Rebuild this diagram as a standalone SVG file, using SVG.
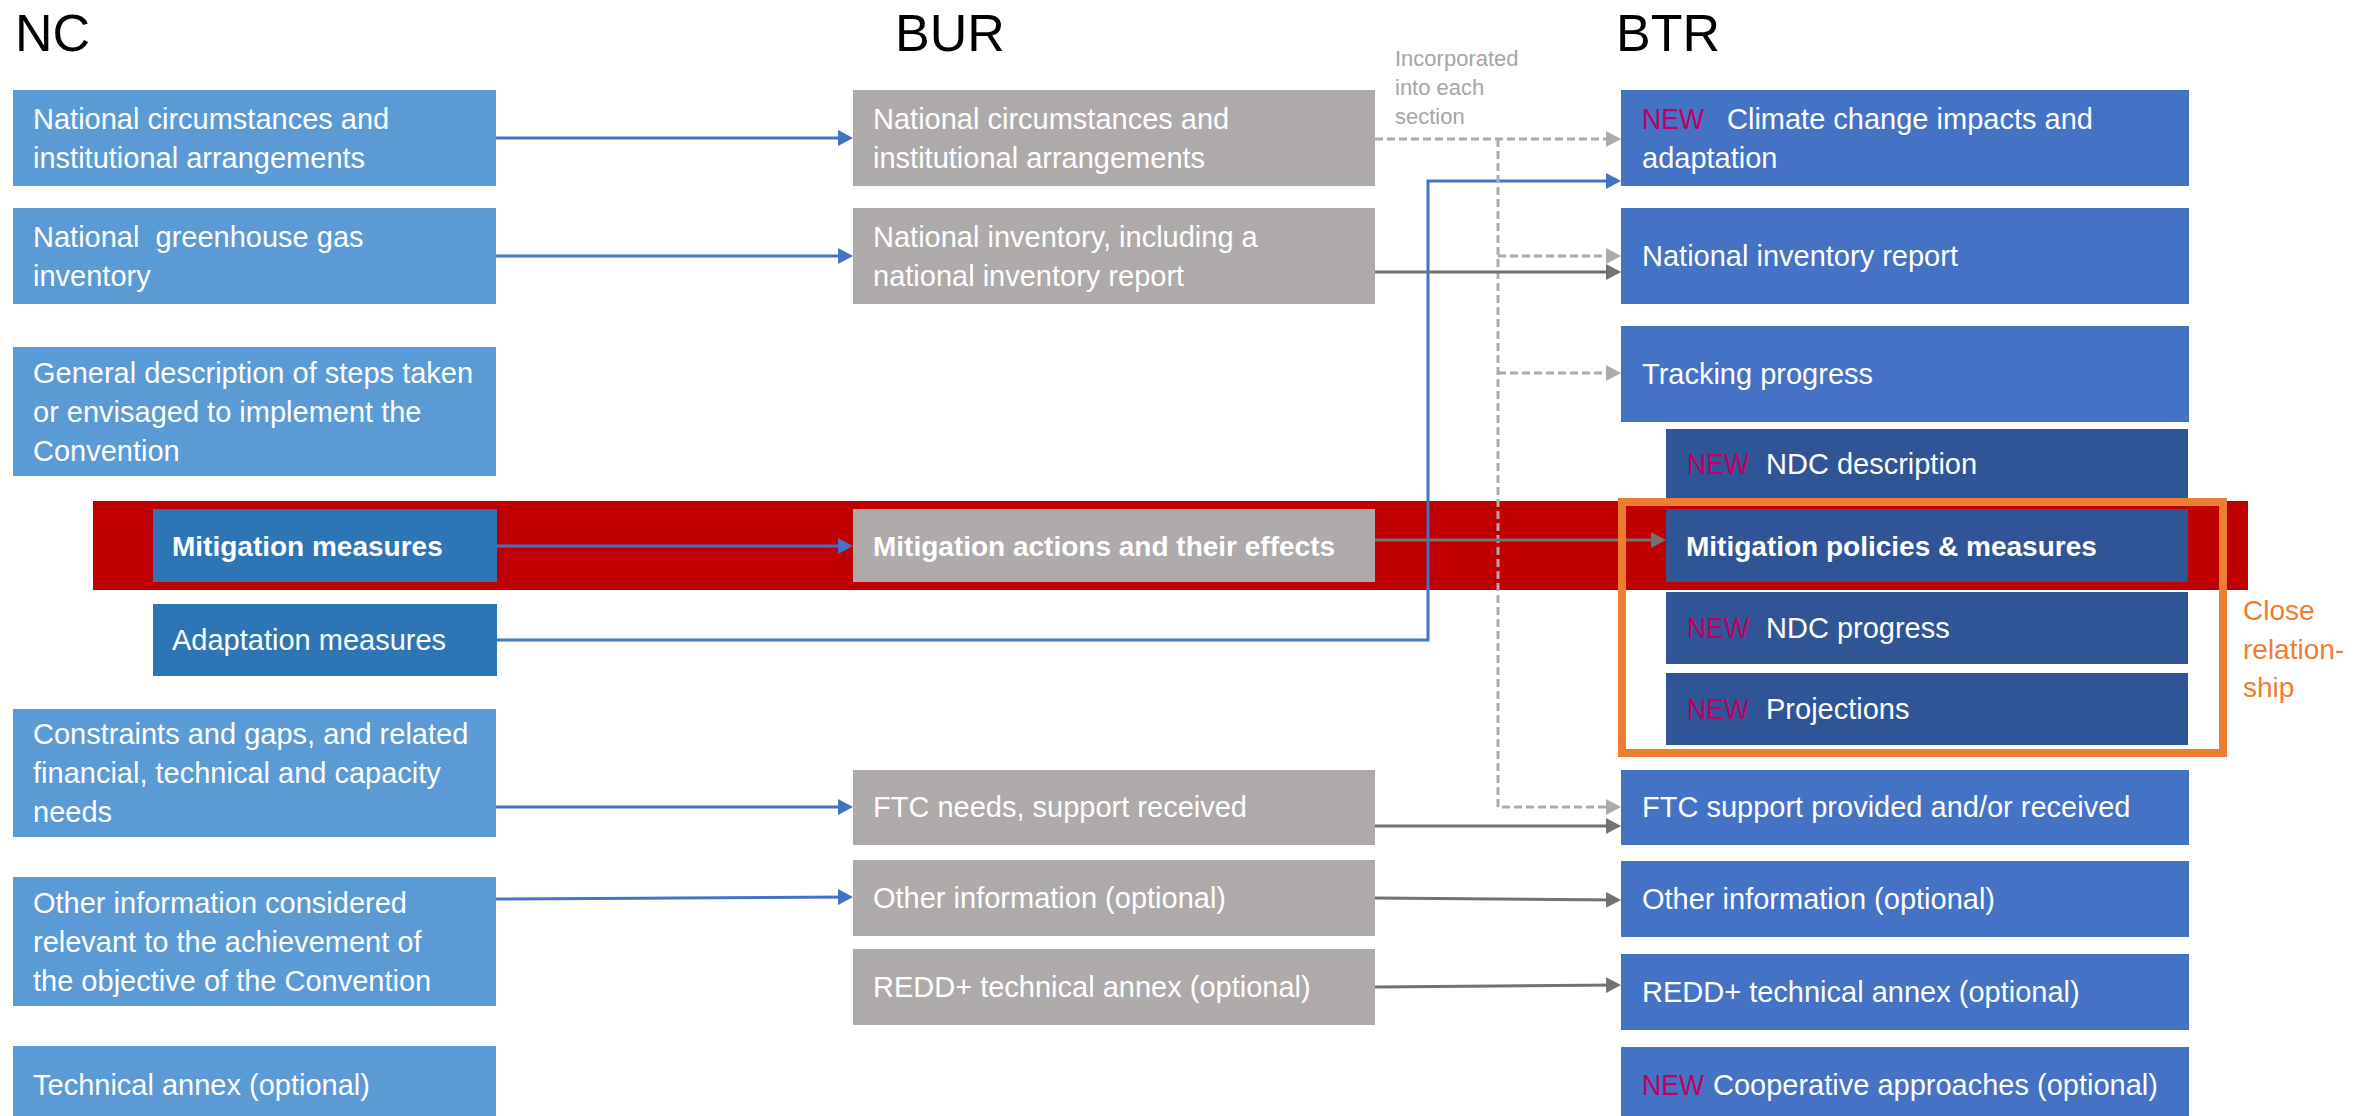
<svg xmlns="http://www.w3.org/2000/svg" width="2364" height="1116" viewBox="0 0 2364 1116">
  <defs>
    <style>
      text { font-family: "Liberation Sans", Arial, sans-serif; }
      .title { font-size: 52px; fill: #000; }
      .lbl { font-size: 29px; fill: #fff; }
      .bold { font-size: 28px; font-weight: bold; fill: #fff; }
      .new { fill: #c00060; }
      .nc { fill: #5b9bd5; }
      .nc-sub { fill: #2e75b6; }
      .bur { fill: #aeaaaa; }
      .btr { fill: #4472c4; }
      .btr-sub { fill: #2f5597; }
      .blue { fill: none; stroke: #4472c4; stroke-width: 3; }
      .grey { fill: none; stroke: #767171; stroke-width: 3; }
      .dash { fill: none; stroke: #aeaaaa; stroke-width: 3; stroke-dasharray: 8 4; }
      .note { font-size: 22px; fill: #a6a6a6; }
      .close { font-size: 28px; fill: #ed7d31; }
    </style>
    <marker id="arrow-blue" markerUnits="userSpaceOnUse" markerWidth="15" markerHeight="16" refX="12" refY="8" orient="auto">
      <path d="M0,0 L15,8 L0,16 z" fill="#4472c4"/>
    </marker>
    <marker id="arrow-grey" markerUnits="userSpaceOnUse" markerWidth="15" markerHeight="16" refX="12" refY="8" orient="auto">
      <path d="M0,0 L15,8 L0,16 z" fill="#767171"/>
    </marker>
    <marker id="arrow-light" markerUnits="userSpaceOnUse" markerWidth="15" markerHeight="16" refX="12" refY="8" orient="auto">
      <path d="M0,0 L15,8 L0,16 z" fill="#aeaaaa"/>
    </marker>
  </defs>

  <rect width="2364" height="1116" fill="#ffffff"/>

  <!-- column headings -->
  <text class="title" x="15" y="51">NC</text>
  <text class="title" x="895" y="51">BUR</text>
  <text class="title" x="1616" y="51">BTR</text>

  <!-- mitigation highlight band -->
  <rect id="mitigation-band" x="93" y="501" width="2155" height="89" fill="#c00000"/>

  <!-- NC column -->
  <g id="nc-circumstances">
    <rect class="nc" x="13" y="90" width="483" height="96"/>
    <text class="lbl" x="33" y="129">National circumstances and</text>
    <text class="lbl" x="33" y="168">institutional arrangements</text>
  </g>
  <g id="nc-ghg-inventory">
    <rect class="nc" x="13" y="208" width="483" height="96"/>
    <text class="lbl" x="33" y="247" xml:space="preserve">National  greenhouse gas</text>
    <text class="lbl" x="33" y="286">inventory</text>
  </g>
  <g id="nc-general-description">
    <rect class="nc" x="13" y="347" width="483" height="129"/>
    <text class="lbl" x="33" y="383">General description of steps taken</text>
    <text class="lbl" x="33" y="422">or envisaged to implement the</text>
    <text class="lbl" x="33" y="461">Convention</text>
  </g>
  <g id="nc-mitigation">
    <rect class="nc-sub" x="153" y="509" width="344" height="73"/>
    <text class="bold" x="172" y="556">Mitigation measures</text>
  </g>
  <g id="nc-adaptation">
    <rect class="nc-sub" x="153" y="604" width="344" height="72"/>
    <text class="lbl" x="172" y="650">Adaptation measures</text>
  </g>
  <g id="nc-constraints">
    <rect class="nc" x="13" y="709" width="483" height="128"/>
    <text class="lbl" x="33" y="744">Constraints and gaps, and related</text>
    <text class="lbl" x="33" y="783">financial, technical and capacity</text>
    <text class="lbl" x="33" y="822">needs</text>
  </g>
  <g id="nc-other">
    <rect class="nc" x="13" y="877" width="483" height="129"/>
    <text class="lbl" x="33" y="913">Other information considered</text>
    <text class="lbl" x="33" y="952">relevant to the achievement of</text>
    <text class="lbl" x="33" y="991">the objective of the Convention</text>
  </g>
  <g id="nc-annex">
    <rect class="nc" x="13" y="1046" width="483" height="76"/>
    <text class="lbl" x="33" y="1095">Technical annex (optional)</text>
  </g>

  <!-- BUR column -->
  <g id="bur-circumstances">
    <rect class="bur" x="853" y="90" width="522" height="96"/>
    <text class="lbl" x="873" y="129">National circumstances and</text>
    <text class="lbl" x="873" y="168">institutional arrangements</text>
  </g>
  <g id="bur-inventory">
    <rect class="bur" x="853" y="208" width="522" height="96"/>
    <text class="lbl" x="873" y="247">National inventory, including a</text>
    <text class="lbl" x="873" y="286">national inventory report</text>
  </g>
  <g id="bur-mitigation">
    <rect class="bur" x="853" y="509" width="522" height="73"/>
    <text class="bold" x="873" y="556">Mitigation actions and their effects</text>
  </g>
  <g id="bur-ftc">
    <rect class="bur" x="853" y="770" width="522" height="75"/>
    <text class="lbl" x="873" y="817">FTC needs, support received</text>
  </g>
  <g id="bur-other">
    <rect class="bur" x="853" y="860" width="522" height="76"/>
    <text class="lbl" x="873" y="908">Other information (optional)</text>
  </g>
  <g id="bur-redd">
    <rect class="bur" x="853" y="949" width="522" height="76"/>
    <text class="lbl" x="873" y="997">REDD+ technical annex (optional)</text>
  </g>

  <!-- BTR column -->
  <g id="btr-impacts">
    <rect class="btr" x="1621" y="90" width="568" height="96"/>
    <text class="lbl" y="129"><tspan class="new" x="1642" textLength="62" lengthAdjust="spacingAndGlyphs">NEW</tspan><tspan x="1727">Climate change impacts and</tspan></text>
    <text class="lbl" x="1642" y="168">adaptation</text>
  </g>
  <g id="btr-inventory">
    <rect class="btr" x="1621" y="208" width="568" height="96"/>
    <text class="lbl" x="1642" y="266">National inventory report</text>
  </g>
  <g id="btr-tracking">
    <rect class="btr" x="1621" y="326" width="568" height="96"/>
    <text class="lbl" x="1642" y="384">Tracking progress</text>
  </g>
  <g id="btr-ndc-description">
    <rect class="btr-sub" x="1666" y="429" width="522" height="69"/>
    <text class="lbl" y="474"><tspan class="new" x="1687" textLength="62" lengthAdjust="spacingAndGlyphs">NEW</tspan><tspan x="1766">NDC description</tspan></text>
  </g>
  <g id="btr-mitigation">
    <rect class="btr-sub" x="1666" y="509" width="522" height="73"/>
    <text class="bold" x="1686" y="556">Mitigation policies &amp; measures</text>
  </g>
  <g id="btr-ndc-progress">
    <rect class="btr-sub" x="1666" y="592" width="522" height="72"/>
    <text class="lbl" y="638"><tspan class="new" x="1687" textLength="62" lengthAdjust="spacingAndGlyphs">NEW</tspan><tspan x="1766">NDC progress</tspan></text>
  </g>
  <g id="btr-projections">
    <rect class="btr-sub" x="1666" y="673" width="522" height="72"/>
    <text class="lbl" y="719"><tspan class="new" x="1687" textLength="62" lengthAdjust="spacingAndGlyphs">NEW</tspan><tspan x="1766">Projections</tspan></text>
  </g>
  <g id="btr-ftc">
    <rect class="btr" x="1621" y="770" width="568" height="75"/>
    <text class="lbl" x="1642" y="817">FTC support provided and/or received</text>
  </g>
  <g id="btr-other">
    <rect class="btr" x="1621" y="861" width="568" height="76"/>
    <text class="lbl" x="1642" y="909">Other information (optional)</text>
  </g>
  <g id="btr-redd">
    <rect class="btr" x="1621" y="954" width="568" height="76"/>
    <text class="lbl" x="1642" y="1002">REDD+ technical annex (optional)</text>
  </g>
  <g id="btr-cooperative">
    <rect class="btr" x="1621" y="1047" width="568" height="76"/>
    <text class="lbl" y="1095"><tspan class="new" x="1642" textLength="62" lengthAdjust="spacingAndGlyphs">NEW</tspan><tspan x="1713">Cooperative approaches (optional)</tspan></text>
  </g>

  <!-- connectors -->
  <g id="connectors">
    <path class="blue" d="M496,138 H850" marker-end="url(#arrow-blue)"/>
    <path class="blue" d="M496,256 H850" marker-end="url(#arrow-blue)"/>
    <path class="blue" d="M497,546 H850" marker-end="url(#arrow-blue)"/>
    <path class="blue" d="M497,640 H1428 V181 H1618" marker-end="url(#arrow-blue)"/>
    <path class="blue" d="M496,807 H850" marker-end="url(#arrow-blue)"/>
    <path class="blue" d="M496,899 L850,897" marker-end="url(#arrow-blue)"/>

    <path class="dash" d="M1375,139 H1618" marker-end="url(#arrow-light)"/>
    <path class="dash" d="M1498,139 V807 H1618" marker-end="url(#arrow-light)"/>
    <path class="dash" d="M1498,256 H1618" marker-end="url(#arrow-light)"/>
    <path class="dash" d="M1498,373 H1618" marker-end="url(#arrow-light)"/>

    <path class="grey" d="M1375,272 H1618" marker-end="url(#arrow-grey)"/>
    <path class="grey" d="M1375,540 H1663" marker-end="url(#arrow-grey)"/>
    <path class="grey" d="M1375,826 H1618" marker-end="url(#arrow-grey)"/>
    <path class="grey" d="M1375,898 L1618,900" marker-end="url(#arrow-grey)"/>
    <path class="grey" d="M1375,987 L1618,985" marker-end="url(#arrow-grey)"/>
  </g>

  <!-- note on the dashed links -->
  <g id="incorporated-note">
    <text class="note" x="1395" y="66">Incorporated</text>
    <text class="note" x="1395" y="95">into each</text>
    <text class="note" x="1395" y="124">section</text>
  </g>

  <!-- close relationship frame -->
  <g id="close-relationship">
    <rect x="1622" y="502" width="601" height="251" fill="none" stroke="#ed7d31" stroke-width="8"/>
    <text class="close" x="2243" y="620">Close</text>
    <text class="close" x="2243" y="659">relation-</text>
    <text class="close" x="2243" y="697">ship</text>
  </g>
</svg>
